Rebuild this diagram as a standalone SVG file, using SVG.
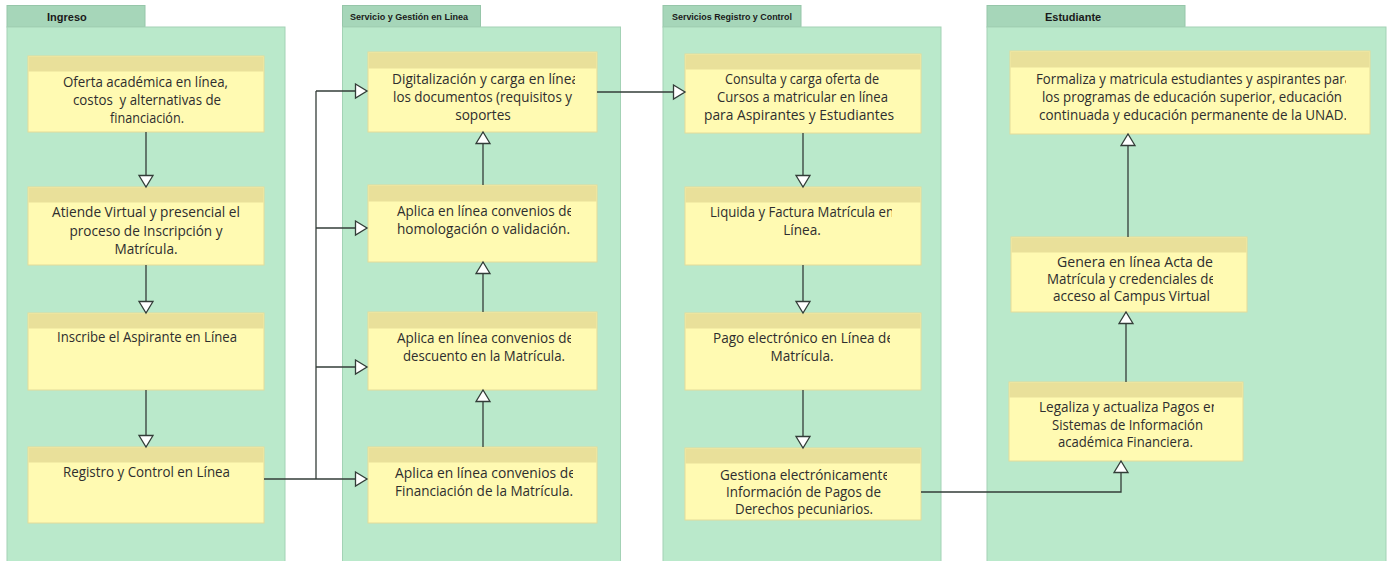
<svg xmlns="http://www.w3.org/2000/svg" width="1394" height="561" viewBox="0 0 1394 561">
  <style>
    .pool { fill: #bae9cb; stroke: #a3d2b5; stroke-width: 1; }
    .tab { fill: #a6d6b9; stroke: #96c6a9; stroke-width: 1; }
    .tabt { font-family: "Liberation Sans", Arial, sans-serif; font-weight: bold; fill: #1a1a1a; }
    .body { fill: #fffab2; stroke: #e3dc9a; stroke-width: 1; }
    .head { fill: #e9e09a; }
    .t { font-family: "Open Sans", "Noto Sans", sans-serif; font-size: 13.6px; fill: #2e2e2e; text-anchor: middle; }
    .c { font-family: "Open Sans", "Noto Sans", sans-serif; font-size: 13.6px; fill: #2e2e2e; }
    .ln { fill: none; stroke: #333d38; stroke-width: 1.3; marker-end: url(#open); }
    .plain { fill: none; stroke: #333d38; stroke-width: 1.3; }
  </style>
  <defs>
    <marker id="open" markerUnits="userSpaceOnUse" markerWidth="16" markerHeight="18" refX="13" refY="8" orient="auto">
      <path d="M1.5,1 L13,8 L1.5,15 Z" fill="#ffffff" stroke="#333d38" stroke-width="1.3" stroke-linejoin="miter"/>
    </marker>
    <clipPath id="clipA"><rect x="368" y="52" width="207" height="80"/></clipPath>
    <clipPath id="clipB"><rect x="368" y="185" width="203" height="77"/></clipPath>
    <clipPath id="clipC"><rect x="368" y="312" width="203" height="78"/></clipPath>
    <clipPath id="clipD"><rect x="368" y="447" width="205" height="76"/></clipPath>
    <clipPath id="clipLiq"><rect x="685" y="187" width="207" height="78"/></clipPath>
    <clipPath id="clipPago"><rect x="685" y="313" width="205" height="77"/></clipPath>
    <clipPath id="clipGes"><rect x="685" y="448" width="202" height="72"/></clipPath>
    <clipPath id="clipFor"><rect x="1010" y="51" width="336" height="83"/></clipPath>
    <clipPath id="clipGen"><rect x="1011" y="237" width="202" height="75"/></clipPath>
    <clipPath id="clipLeg"><rect x="1009" y="382" width="205" height="79"/></clipPath>
  </defs>

  <rect width="1394" height="561" fill="#ffffff"/>

  <!-- Swimlane pools -->
  <g id="pool-ingreso">
    <rect class="tab" x="7" y="5.5" width="138" height="21.5"/>
    <rect class="pool" x="7" y="27" width="278" height="540"/>
    <text class="tabt" x="47" y="21" font-size="11">Ingreso</text>
  </g>
  <g id="pool-servicio">
    <rect class="tab" x="342.5" y="5.5" width="138" height="21.5"/>
    <rect class="pool" x="342.5" y="27" width="278" height="540"/>
    <text class="tabt" x="350" y="19.5" font-size="9" textLength="118" lengthAdjust="spacingAndGlyphs">Servicio y Gestión en Linea</text>
  </g>
  <g id="pool-registro">
    <rect class="tab" x="663" y="5.5" width="138" height="21.5"/>
    <rect class="pool" x="663" y="27" width="278" height="540"/>
    <text class="tabt" x="672" y="19.5" font-size="9" textLength="120" lengthAdjust="spacingAndGlyphs">Servicios Registro y Control</text>
  </g>
  <g id="pool-estudiante">
    <rect class="tab" x="987" y="5.5" width="198" height="21.5"/>
    <rect class="pool" x="987" y="27" width="399" height="540"/>
    <text class="tabt" x="1045" y="21" font-size="11">Estudiante</text>
  </g>

  <!-- Ingreso nodes -->
  <g id="n-oferta">
    <rect class="body" x="28" y="56" width="236" height="76"/>
    <rect class="head" x="28.5" y="56.5" width="235" height="15"/>
    <text class="c" x="63" y="87" textLength="165" lengthAdjust="spacingAndGlyphs">Oferta académica en línea,</text>
    <text class="c" x="73" y="105" textLength="148" lengthAdjust="spacingAndGlyphs" xml:space="preserve">costos  y alternativas de</text>
    <text class="c" x="110" y="123" textLength="74" lengthAdjust="spacingAndGlyphs">financiación.</text>
  </g>
  <g id="n-atiende">
    <rect class="body" x="28" y="187" width="236" height="78"/>
    <rect class="head" x="28.5" y="187.5" width="235" height="15"/>
    <text class="c" x="52" y="217" textLength="188" lengthAdjust="spacingAndGlyphs">Atiende Virtual y presencial el</text>
    <text class="t" x="146" y="235.5">proceso de Inscripción y</text>
    <text class="t" x="146" y="254">Matrícula.</text>
  </g>
  <g id="n-inscribe">
    <rect class="body" x="28" y="313" width="236" height="77"/>
    <rect class="head" x="28.5" y="313.5" width="235" height="15"/>
    <text class="c" x="57" y="342" textLength="180" lengthAdjust="spacingAndGlyphs">Inscribe el Aspirante en Línea</text>
  </g>
  <g id="n-registro">
    <rect class="body" x="28" y="447" width="236" height="76"/>
    <rect class="head" x="28.5" y="447.5" width="235" height="15"/>
    <text class="c" x="63" y="477" textLength="167" lengthAdjust="spacingAndGlyphs">Registro y Control en Línea</text>
  </g>

  <!-- Servicio y Gestión nodes -->
  <g id="n-digitalizacion">
    <rect class="body" x="368" y="52" width="229" height="80"/>
    <rect class="head" x="368.5" y="52.5" width="228" height="16"/>
    <g clip-path="url(#clipA)">
      <text class="c" x="392" y="84" textLength="187" lengthAdjust="spacingAndGlyphs">Digitalización y carga en línea</text>
      <text class="c" x="393" y="102" textLength="179" lengthAdjust="spacingAndGlyphs">los documentos (requisitos y</text>
      <text class="t" x="483" y="120">soportes</text>
    </g>
  </g>
  <g id="n-homologacion">
    <rect class="body" x="368" y="185" width="229" height="77"/>
    <rect class="head" x="368.5" y="185.5" width="228" height="16"/>
    <g clip-path="url(#clipB)">
      <text class="c" x="397" y="216" textLength="177" lengthAdjust="spacingAndGlyphs">Aplica en línea convenios de</text>
      <text class="c" x="397" y="234" textLength="173" lengthAdjust="spacingAndGlyphs">homologación o validación.</text>
    </g>
  </g>
  <g id="n-descuento">
    <rect class="body" x="368" y="312" width="229" height="78"/>
    <rect class="head" x="368.5" y="312.5" width="228" height="16"/>
    <g clip-path="url(#clipC)">
      <text class="c" x="397" y="343" textLength="177" lengthAdjust="spacingAndGlyphs">Aplica en línea convenios de</text>
      <text class="c" x="403" y="361" textLength="162" lengthAdjust="spacingAndGlyphs">descuento en la Matrícula.</text>
    </g>
  </g>
  <g id="n-financiacion">
    <rect class="body" x="368" y="447" width="229" height="76"/>
    <rect class="head" x="368.5" y="447.5" width="228" height="15"/>
    <g clip-path="url(#clipD)">
      <text class="c" x="395" y="478" textLength="181" lengthAdjust="spacingAndGlyphs">Aplica en línea convenios de</text>
      <text class="c" x="395" y="496" textLength="178" lengthAdjust="spacingAndGlyphs">Financiación de la Matrícula.</text>
    </g>
  </g>

  <!-- Servicios Registro y Control nodes -->
  <g id="n-consulta">
    <rect class="body" x="685" y="54" width="236" height="79"/>
    <rect class="head" x="685.5" y="54.5" width="235" height="15"/>
    <text class="c" x="725" y="84" textLength="154" lengthAdjust="spacingAndGlyphs">Consulta y carga oferta de</text>
    <text class="c" x="717" y="102" textLength="171" lengthAdjust="spacingAndGlyphs">Cursos a matricular en línea</text>
    <text class="c" x="704" y="120" textLength="190" lengthAdjust="spacingAndGlyphs">para Aspirantes y Estudiantes</text>
  </g>
  <g id="n-liquida">
    <rect class="body" x="685" y="187" width="236" height="78"/>
    <rect class="head" x="685.5" y="187.5" width="235" height="15"/>
    <g clip-path="url(#clipLiq)">
      <text class="c" x="710" y="217" textLength="184" lengthAdjust="spacingAndGlyphs">Liquida y Factura Matrícula en</text>
      <text class="t" x="802" y="235">Línea.</text>
    </g>
  </g>
  <g id="n-pago">
    <rect class="body" x="685" y="313" width="236" height="77"/>
    <rect class="head" x="685.5" y="313.5" width="235" height="15"/>
    <g clip-path="url(#clipPago)">
      <text class="c" x="713" y="343" textLength="181" lengthAdjust="spacingAndGlyphs">Pago electrónico en Línea de</text>
      <text class="t" x="802" y="361">Matrícula.</text>
    </g>
  </g>
  <g id="n-gestiona">
    <rect class="body" x="685" y="448" width="236" height="72"/>
    <rect class="head" x="685.5" y="448.5" width="235" height="15"/>
    <g clip-path="url(#clipGes)">
      <text class="c" x="720" y="480" textLength="170" lengthAdjust="spacingAndGlyphs">Gestiona electrónicamente</text>
      <text class="c" x="726" y="497" textLength="155" lengthAdjust="spacingAndGlyphs">Información de Pagos de</text>
      <text class="c" x="735" y="514" textLength="138" lengthAdjust="spacingAndGlyphs">Derechos pecuniarios.</text>
    </g>
  </g>

  <!-- Estudiante nodes -->
  <g id="n-formaliza">
    <rect class="body" x="1010" y="51" width="360" height="83"/>
    <rect class="head" x="1010.5" y="51.5" width="359" height="16"/>
    <g clip-path="url(#clipFor)">
      <text class="c" x="1036" y="84" textLength="316" lengthAdjust="spacingAndGlyphs">Formaliza y matricula estudiantes y aspirantes para</text>
      <text class="c" x="1042" y="102" textLength="300" lengthAdjust="spacingAndGlyphs">los programas de educación superior, educación</text>
      <text class="c" x="1039" y="120" textLength="308" lengthAdjust="spacingAndGlyphs">continuada y educación permanente de la UNAD.</text>
    </g>
  </g>
  <g id="n-genera">
    <rect class="body" x="1011" y="237" width="236" height="75"/>
    <rect class="head" x="1011.5" y="237.5" width="235" height="15"/>
    <g clip-path="url(#clipGen)">
      <text class="c" x="1057" y="267" textLength="156" lengthAdjust="spacingAndGlyphs">Genera en línea Acta de</text>
      <text class="c" x="1047" y="284" textLength="169" lengthAdjust="spacingAndGlyphs">Matrícula y credenciales de</text>
      <text class="c" x="1053" y="301" textLength="157" lengthAdjust="spacingAndGlyphs">acceso al Campus Virtual</text>
    </g>
  </g>
  <g id="n-legaliza">
    <rect class="body" x="1009" y="382" width="234" height="79"/>
    <rect class="head" x="1009.5" y="382.5" width="233" height="15"/>
    <g clip-path="url(#clipLeg)">
      <text class="c" x="1039" y="412" textLength="180" lengthAdjust="spacingAndGlyphs">Legaliza y actualiza Pagos en</text>
      <text class="c" x="1052" y="430" textLength="151" lengthAdjust="spacingAndGlyphs">Sistemas de Información</text>
      <text class="c" x="1058" y="447" textLength="135" lengthAdjust="spacingAndGlyphs">académica Financiera.</text>
    </g>
  </g>

  <!-- Connectors -->
  <g id="connectors">
    <path class="ln" d="M146 132 V187"/>
    <path class="ln" d="M146 265 V313"/>
    <path class="ln" d="M146 390 V447"/>

    <path class="plain" d="M264 479 H316" stroke-width="3"/>
    <path class="plain" d="M316 479 V91"/>
    <path class="ln" d="M316 91 H367"/>
    <path class="ln" d="M316 228 H367"/>
    <path class="ln" d="M316 367 H367"/>
    <path class="ln" d="M316 479 H367"/>

    <path class="ln" d="M483 447 V390"/>
    <path class="ln" d="M483 312 V262"/>
    <path class="ln" d="M483 185 V132"/>

    <path class="ln" d="M597 92 H685"/>

    <path class="ln" d="M803 133 V187"/>
    <path class="ln" d="M803 265 V313"/>
    <path class="ln" d="M803 390 V448"/>

    <path class="ln" d="M921 492 H1121 V461"/>
    <path class="ln" d="M1126 382 V312"/>
    <path class="ln" d="M1128 237 V134"/>
  </g>
</svg>
